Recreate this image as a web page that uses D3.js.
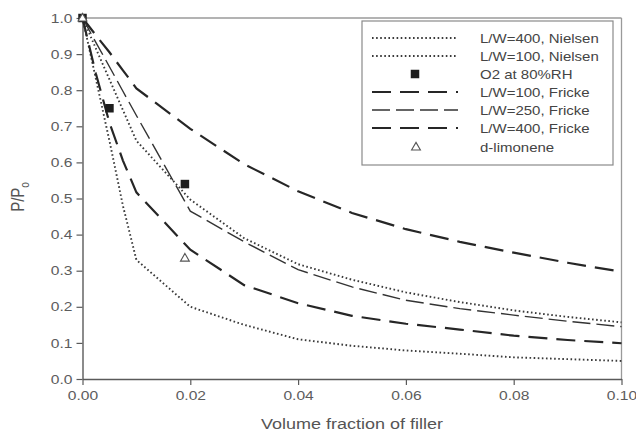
<!DOCTYPE html>
<html><head><meta charset="utf-8">
<script src="https://cdn.jsdelivr.net/npm/d3@7"></script>
<style>html,body{margin:0;padding:0;background:#fff;}svg{display:block;font-family:"Liberation Sans",Arial,sans-serif;}</style>
</head><body>
<svg id="chart" width="636" height="436"></svg>
<script>
// ---- data ----
const phi = [0, 0.0025, 0.005, 0.0075, 0.01, 0.02, 0.03, 0.04, 0.05, 0.06, 0.07, 0.08, 0.09, 0.10];
const nielsen400 = [1, 0.83, 0.66, 0.48, 0.33, 0.20, 0.15, 0.11, 0.092, 0.079, 0.07, 0.06, 0.055, 0.05];
const nielsen100 = [1, 0.915, 0.83, 0.745, 0.66, 0.497, 0.39, 0.318, 0.275, 0.24, 0.213, 0.19, 0.172, 0.157];
const fricke100  = [1, 0.952, 0.905, 0.855, 0.805, 0.693, 0.595, 0.52, 0.46, 0.415, 0.38, 0.35, 0.322, 0.297];
const fricke250  = [1, 0.932, 0.865, 0.797, 0.73, 0.465, 0.38, 0.303, 0.255, 0.218, 0.195, 0.177, 0.16, 0.145];
const fricke400  = [1, 0.845, 0.71, 0.605, 0.517, 0.358, 0.26, 0.21, 0.175, 0.153, 0.137, 0.12, 0.108, 0.099];
const o2X = [0, 0.005, 0.019];
const o2Y = [1, 0.75, 0.54];
const limX = [0, 0.019];
const limY = [1, 0.335];
const xTicks = [0, 0.02, 0.04, 0.06, 0.08, 0.10];
const xTickLabels = ["0.00", "0.02", "0.04", "0.06", "0.08", "0.10"];
const yTicks = [0, 0.1, 0.2, 0.3, 0.4, 0.5, 0.6, 0.7, 0.8, 0.9, 1.0];
const yTickLabels = ["0.0", "0.1", "0.2", "0.3", "0.4", "0.5", "0.6", "0.7", "0.8", "0.9", "1.0"];
const seriesNames = ["L/W=400, Nielsen", "L/W=100, Nielsen", "O2 at 80%RH", "L/W=100, Fricke", "L/W=250, Fricke", "L/W=400, Fricke", "d-limonene"];

// ---- styles ----
const SX = 1.2; // horizontal text stretch of the original
const styles = {
  dot:   {w: 1.9, dash: "1.6,2.5", color: "#3a3a3a"},
  dash:  {w: 2.2, dash: "19,9", color: "#262626"},
  dashT: {w: 1.4, dash: "18,6", color: "#333"}
};

const svg = d3.select("#chart");
const x = d3.scaleLinear().domain([0, 0.1]).range([82.5, 621.5]);
const y = d3.scaleLinear().domain([0, 1]).range([379, 18]);

// frame (top, right)
svg.append("line").attr("x1", x(0)).attr("x2", x(0.1)).attr("y1", y(1)).attr("y2", y(1))
  .attr("stroke", "#9a9a9a").attr("stroke-width", 1.3);
svg.append("line").attr("x1", x(0.1)).attr("x2", x(0.1)).attr("y1", y(1)).attr("y2", y(0))
  .attr("stroke", "#9a9a9a").attr("stroke-width", 1.3);

// axes
const axisColor = "#5a5a5a";
const gx = svg.append("g").attr("transform", `translate(0,${y(0)})`)
  .call(d3.axisBottom(x).tickValues(xTicks).tickSize(6).tickSizeOuter(0)
    .tickFormat((d, i) => xTickLabels[i]));
const gy = svg.append("g").attr("transform", `translate(${x(0)},0)`)
  .call(d3.axisLeft(y).tickValues(yTicks).tickSize(6).tickSizeOuter(0)
    .tickFormat((d, i) => yTickLabels[i]));
[gx, gy].forEach(g => {
  g.select(".domain").attr("stroke", axisColor).attr("stroke-width", 1.4);
  g.selectAll(".tick line").attr("stroke", axisColor).attr("stroke-width", 1.2);
  g.selectAll(".tick text").attr("fill", "#5c5c5c").style("font-size", "13px")
    .style("font-family", '"Liberation Sans",Arial,sans-serif');
});
gx.selectAll(".tick text").attr("y", 12).attr("x", 0).attr("transform", `scale(${SX},1)`);
gy.selectAll(".tick text").attr("x", -10 / SX).attr("transform", `scale(${SX},1)`);

// axis titles
svg.append("text").attr("transform", `translate(352,429) scale(${SX},1)`)
  .attr("text-anchor", "middle").attr("fill", "#555").style("font-size", "15px")
  .text("Volume fraction of filler");
const yl = svg.append("text").attr("transform", `translate(24,197) scale(${SX},1) rotate(-90)`)
  .attr("text-anchor", "middle").attr("fill", "#555").style("font-size", "15px");
yl.append("tspan").text("P/P");
yl.append("tspan").attr("dy", 4).style("font-size", "10px").text("o");

// lines
const line = d3.line().x(d => x(d[0])).y(d => y(d[1]));
function drawSeries(vals, st) {
  svg.append("path").datum(phi.map((p, i) => [p, vals[i]]))
    .attr("d", line).attr("fill", "none")
    .attr("stroke", st.color).attr("stroke-width", st.w)
    .attr("stroke-dasharray", st.dash);
}
drawSeries(nielsen400, styles.dot);
drawSeries(nielsen100, styles.dot);
drawSeries(fricke100, styles.dash);
drawSeries(fricke250, styles.dashT);
drawSeries(fricke400, styles.dash);

// markers
const sq = 8.5;
svg.selectAll(".o2").data(o2X.map((v, i) => [v, o2Y[i]])).enter().append("rect")
  .attr("x", d => x(d[0]) - sq / 2).attr("y", d => y(d[1]) - sq / 2)
  .attr("width", sq).attr("height", sq).attr("fill", "#1e1e1e");
const tri = d3.symbol().type(d3.symbolTriangle).size(34);
svg.selectAll(".lim").data(limX.map((v, i) => [v, limY[i]])).enter().append("path")
  .attr("d", tri).attr("transform", d => `translate(${x(d[0])},${y(d[1]) + 0.5})`)
  .attr("fill", "#fff").attr("stroke", "#555").attr("stroke-width", 1.1);

// legend
const lg = svg.append("g");
lg.append("rect").attr("x", 362).attr("y", 21).attr("width", 251).attr("height", 144)
  .attr("fill", "#fff").attr("stroke", "#8a8a8a").attr("stroke-width", 1.2);
const rowY = [38, 56, 74, 92, 110, 128, 147];
const legendKinds = ["dot", "dot", "square", "dash", "dashT", "dash", "tri"];
legendKinds.forEach((k, i) => {
  const yy = rowY[i];
  if (k === "square") {
    lg.append("rect").attr("x", 415 - sq / 2).attr("y", yy - sq / 2).attr("width", sq).attr("height", sq).attr("fill", "#1e1e1e");
  } else if (k === "tri") {
    lg.append("path").attr("d", tri).attr("transform", `translate(416,${yy + 0.5})`)
      .attr("fill", "#fff").attr("stroke", "#555").attr("stroke-width", 1.1);
  } else {
    const st = styles[k];
    lg.append("line").attr("x1", 372).attr("x2", 458).attr("y1", yy).attr("y2", yy)
      .attr("stroke", st.color).attr("stroke-width", st.w).attr("stroke-dasharray", st.dash);
  }
  lg.append("text").attr("transform", `translate(480,${yy + 4.5}) scale(${SX},1)`)
    .attr("fill", "#444").style("font-size", "12.5px").text(seriesNames[i]);
});
</script>
</body></html>
